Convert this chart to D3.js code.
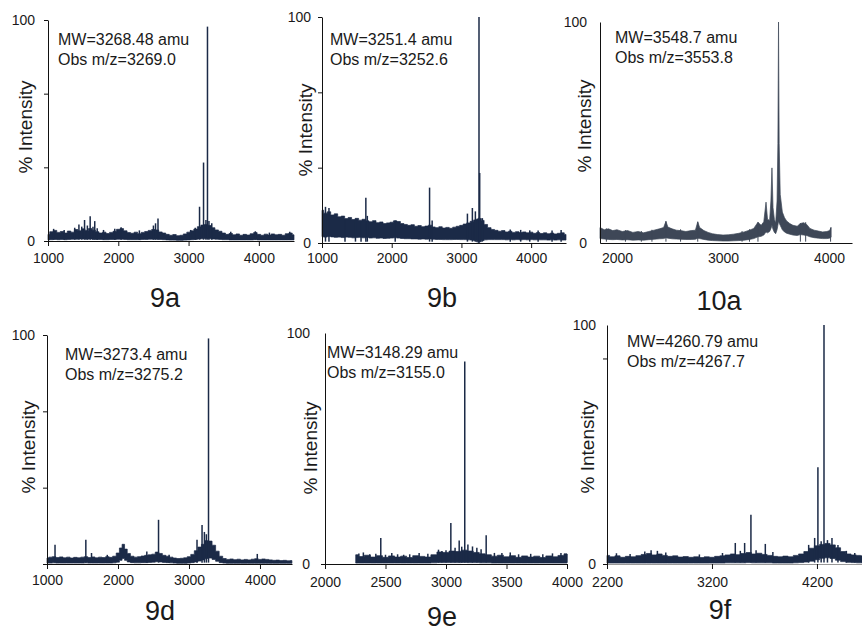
<!DOCTYPE html>
<html>
<head>
<meta charset="utf-8">
<script src="https://cdn.jsdelivr.net/npm/d3@7"></script>
<style>
  body { margin: 0; background: #fff; }
  text { font-family: Arial, "Liberation Sans", sans-serif; fill: #1a1a1a; }
</style>
</head>
<body>
<div id="chart"></div>
<script>
// ---- data: [m/z, noise low %, noise high %] and [m/z, peak %] ----

var band9a = [[1000,0.5,3.0],[1050,0.6,4.2],[1100,0.7,4.8],[1150,0.6,3.9],[1200,0.7,4.3],[1250,0.6,3.6],[1300,0.7,4.5],[1350,0.8,4.0],[1400,0.8,5.2],[1450,0.9,4.6],[1500,0.9,5.5],[1550,0.8,4.8],[1600,0.9,5.6],[1650,0.8,4.9],[1700,0.7,4.2],[1750,0.7,3.6],[1800,0.6,4.0],[1850,0.6,3.4],[1900,0.7,3.9],[1950,0.7,4.4],[2000,0.8,5.3],[2050,0.8,5.6],[2100,0.7,4.6],[2150,0.6,3.8],[2200,0.6,3.5],[2250,0.6,4.0],[2300,0.6,3.3],[2350,0.7,3.9],[2400,0.7,4.3],[2450,0.8,4.8],[2500,0.8,5.2],[2550,0.8,5.0],[2600,0.7,4.1],[2650,0.6,3.6],[2700,0.5,3.0],[2750,0.4,2.6],[2800,0.4,2.9],[2850,0.3,2.4],[2900,0.3,2.6],[2950,0.4,3.2],[3000,0.5,4.0],[3050,0.6,4.6],[3100,0.7,5.4],[3150,0.9,6.5],[3200,1.0,7.2],[3250,1.1,7.5],[3300,1.0,7.0],[3350,0.9,6.0],[3400,0.8,5.0],[3450,0.7,4.4],[3500,0.6,3.6],[3550,0.6,3.0],[3600,0.5,3.4],[3650,0.5,2.8],[3700,0.5,3.2],[3750,0.5,2.6],[3800,0.5,3.0],[3850,0.5,2.7],[3900,0.5,3.3],[3950,0.6,3.8],[4000,0.5,3.0],[4050,0.5,2.6],[4100,0.5,3.1],[4150,0.5,2.7],[4200,0.5,3.2],[4250,0.5,2.8],[4300,0.5,3.0],[4350,0.5,2.6],[4400,0.5,3.3],[4450,0.5,3.6],[4500,0.5,2.8]];
var peaks9a = [[1080,5.5],[1230,5],[1380,6],[1440,7.5],[1480,6.5],[1520,9.5],[1560,7],[1600,11.2],[1640,6.5],[1665,9],[1700,5.8],[1790,5],[1950,5.5],[2040,6.2],[2300,4.8],[2500,7],[2530,8],[2565,10.2],[3030,5],[3095,6],[3156,15.5],[3213,35.5],[3247,9.5],[3269,97],[3290,9],[3330,8],[3600,4.2],[3950,4.4],[4150,3.8],[4440,4.2]];

var band9b = [[1000,2.8,14.5],[1050,2.6,13.2],[1100,2.9,13.8],[1150,2.7,12.4],[1200,2.5,12.9],[1250,2.6,11.6],[1300,2.4,11.9],[1350,2.6,10.8],[1400,2.5,11.3],[1450,2.3,10.4],[1500,2.4,10.9],[1550,2.5,10.1],[1600,2.3,10.5],[1650,2.4,9.8],[1700,2.2,9.4],[1750,2.3,9.9],[1800,2.1,9.0],[1850,2.2,9.3],[1900,2.0,8.6],[1950,2.1,8.9],[2000,2.2,9.2],[2050,2.3,9.8],[2100,2.2,9.5],[2150,2.0,8.6],[2200,1.9,8.2],[2250,1.9,7.8],[2300,1.8,8.1],[2350,1.8,7.4],[2400,1.7,7.7],[2450,1.8,7.2],[2500,1.7,7.5],[2550,1.8,7.9],[2600,1.7,7.1],[2650,1.6,6.8],[2700,1.6,7.2],[2750,1.5,6.6],[2800,1.5,6.9],[2850,1.5,6.5],[2900,1.6,7.0],[2950,1.6,7.4],[3000,1.5,7.8],[3050,1.5,8.4],[3100,1.4,8.9],[3150,1.3,9.6],[3200,1.0,10.2],[3230,0.5,10.6],[3250,0.1,11.0],[3270,0.6,10.8],[3300,1.1,10.0],[3350,1.4,8.2],[3400,1.5,6.8],[3450,1.5,6.0],[3500,1.5,5.6],[3550,1.5,5.2],[3600,1.5,5.5],[3650,1.4,4.9],[3700,1.5,5.2],[3750,1.4,4.7],[3800,1.5,5.0],[3850,1.4,4.6],[3900,1.5,4.9],[3950,1.4,4.5],[4000,1.5,4.8],[4050,1.4,4.3],[4100,1.4,4.6],[4150,1.4,4.2],[4200,1.4,4.5],[4250,1.3,4.1],[4300,1.4,4.4],[4350,1.3,4.0],[4400,1.4,4.3],[4450,1.3,4.5],[4500,1.3,3.8]];
var peaks9b = [[1050,16],[1100,15.5],[1330,10.5],[1480,10.5],[1560,9.5],[1629,20],[1650,12],[2050,10],[2543,24.5],[2580,10],[3086,13],[3157,15.5],[3200,14],[3252,100],[3262,31],[3300,11],[3700,6],[3850,5.8],[3980,5.6],[4100,5.5],[4300,5.5],[4430,5.8]];

var band10a = [[1840,2.0,7.0],[1880,1.8,6.0],[1920,1.6,6.4],[1960,1.5,5.6],[2000,1.6,6.0],[2050,1.4,5.2],[2100,1.5,5.6],[2150,1.3,4.8],[2200,1.4,5.2],[2250,1.3,4.6],[2300,1.5,5.2],[2350,1.7,5.8],[2400,1.9,6.4],[2440,2.0,7.0],[2462,2.4,9.8],[2480,2.2,7.2],[2520,1.9,6.4],[2560,1.8,5.8],[2600,1.7,5.6],[2650,1.6,5.2],[2700,1.6,5.6],[2740,1.7,5.8],[2762,2.2,9.6],[2780,2.0,7.0],[2820,1.6,5.6],[2860,1.3,4.8],[2900,1.1,4.2],[2950,1.0,3.8],[3000,0.9,3.6],[3050,0.9,3.7],[3100,1.0,4.0],[3150,1.1,4.4],[3200,1.3,5.0],[3250,1.6,5.8],[3290,2.0,6.6],[3330,2.8,9.4],[3360,3.0,8.0],[3385,3.6,9.6],[3406,5.0,18.5],[3420,4.6,10.8],[3440,5.2,10.2],[3452,6.5,19.0],[3462,8.0,34.0],[3472,6.2,16.0],[3485,4.8,10.6],[3497,4.2,9.0],[3510,6.0,19.0],[3518,8.0,45.0],[3524,10.0,100],[3530,9.0,45.0],[3540,8.0,22.0],[3560,6.0,14.0],[3580,5.0,11.5],[3600,4.4,10.0],[3630,4.0,8.8],[3660,3.6,8.0],[3700,3.4,7.6],[3730,3.8,8.8],[3760,3.6,9.2],[3790,3.4,8.4],[3820,2.8,6.6],[3860,2.4,5.8],[3900,2.2,5.4],[3940,2.0,5.0],[3980,2.0,5.2],[4005,2.2,5.6],[4020,2.6,7.0]];
var peaks10a = [[1900,6.6],[2080,5.8],[2230,5.4],[2330,6],[2462,9.8],[2600,6.2],[2762,9.6],[3180,5.4],[3250,6.2],[3330,9.4],[3730,9],[3780,9.4],[4015,7]];

var band9d = [[1000,0.4,2.6],[1050,0.4,3.0],[1100,0.5,3.2],[1150,0.4,2.8],[1200,0.4,3.1],[1250,0.4,2.7],[1300,0.4,3.0],[1350,0.4,2.6],[1400,0.4,2.9],[1450,0.4,2.7],[1500,0.4,3.0],[1550,0.5,3.2],[1600,0.4,2.8],[1650,0.4,3.1],[1700,0.4,2.7],[1750,0.4,3.0],[1800,0.4,2.8],[1850,0.4,3.2],[1900,0.4,2.9],[1950,0.5,3.4],[2000,0.8,4.8],[2040,1.6,7.0],[2075,2.4,8.6],[2110,1.6,6.5],[2150,0.9,4.6],[2200,0.6,3.4],[2250,0.5,3.0],[2300,0.5,3.2],[2350,0.6,3.5],[2400,0.6,3.8],[2450,0.7,4.0],[2500,0.8,4.3],[2550,1.0,5.2],[2600,0.9,4.6],[2650,0.7,3.8],[2700,0.6,3.4],[2750,0.5,3.0],[2800,0.4,2.6],[2850,0.3,2.4],[2900,0.3,2.5],[2950,0.3,2.7],[3000,0.4,3.2],[3050,0.6,4.2],[3100,0.9,5.8],[3150,1.3,7.4],[3200,1.8,8.6],[3250,2.4,10.2],[3300,2.6,10.0],[3350,2.0,8.2],[3400,1.2,5.6],[3450,0.6,3.4],[3500,0.4,2.4],[3550,0.3,2.0],[3600,0.3,2.2],[3650,0.3,1.9],[3700,0.3,2.1],[3750,0.3,1.8],[3800,0.3,2.0],[3850,0.3,1.8],[3900,0.3,2.1],[3950,0.3,2.3],[4000,0.3,2.0],[4050,0.3,2.2],[4100,0.3,2.0],[4150,0.3,1.8],[4200,0.3,1.6],[4250,0.3,1.7],[4300,0.3,1.5],[4350,0.3,1.6],[4400,0.3,1.4],[4450,0.3,1.5]];
var peaks9d = [[1113,8.4],[1547,10.6],[1627,4.8],[1849,4],[2406,5.5],[2571,19.3],[2720,4],[3113,10.6],[3184,17],[3217,14],[3245,13],[3275,98.5],[3962,4.4]];

var band9e = [[2254,0.4,4.0],[2300,0.4,3.2],[2350,0.4,3.8],[2400,0.4,3.0],[2450,0.4,3.6],[2500,0.4,2.9],[2550,0.4,3.5],[2600,0.4,3.0],[2650,0.4,3.4],[2700,0.4,2.8],[2750,0.4,3.6],[2800,0.4,3.3],[2850,0.4,3.0],[2900,0.5,4.0],[2950,0.6,5.2],[3000,0.6,5.0],[3050,0.6,5.6],[3100,0.6,5.4],[3150,0.7,6.0],[3200,0.6,5.6],[3250,0.6,5.0],[3300,0.5,4.4],[3350,0.5,4.0],[3400,0.4,3.4],[3450,0.4,3.8],[3500,0.4,3.1],[3550,0.4,3.6],[3600,0.4,2.9],[3650,0.4,3.5],[3700,0.4,3.0],[3750,0.4,3.4],[3800,0.4,2.8],[3850,0.4,3.5],[3900,0.4,3.1],[3950,0.4,3.7],[4000,0.4,4.4]];
var peaks9e = [[2280,4.5],[2317,5],[2370,4.2],[2420,4.4],[2461,11.3],[2500,4],[2552,4.8],[2600,4.2],[2650,4],[2700,4.2],[2778,4.8],[2850,4.4],[2938,6.2],[2966,5.6],[3000,6],[3040,17.7],[3075,7],[3109,10.2],[3130,7.5],[3155,87.7],[3181,8.4],[3219,7.6],[3255,7],[3290,6.4],[3332,12.4],[3400,4.8],[3462,4.8],[3531,5],[3600,4.2],[3700,4.4],[3800,4.2],[3880,4.6],[3950,4.8],[3998,4.3]];

var band9f = [[2200,0.4,3.6],[2250,0.4,3.0],[2300,0.4,3.4],[2350,0.4,2.8],[2400,0.4,3.2],[2450,0.4,3.0],[2500,0.4,3.5],[2550,0.4,4.0],[2600,0.4,4.4],[2650,0.4,3.8],[2700,0.4,4.2],[2750,0.4,3.6],[2800,0.4,3.2],[2850,0.4,3.4],[2900,0.4,2.9],[2950,0.4,3.1],[3000,0.4,2.8],[3050,0.4,3.0],[3100,0.4,2.7],[3150,0.4,3.0],[3200,0.4,2.8],[3250,0.4,3.2],[3300,0.4,3.4],[3350,0.5,3.8],[3400,0.5,4.2],[3450,0.5,3.9],[3500,0.5,4.4],[3550,0.6,4.8],[3600,0.5,4.2],[3650,0.5,4.5],[3700,0.5,4.0],[3750,0.5,3.6],[3800,0.4,3.2],[3850,0.4,3.0],[3900,0.4,3.3],[3950,0.4,3.0],[4000,0.5,3.6],[4050,0.6,4.2],[4100,0.8,5.2],[4150,1.2,6.6],[4200,1.8,7.6],[4250,2.4,8.2],[4300,2.6,8.6],[4350,2.3,8.0],[4400,1.6,6.8],[4450,1.0,5.2],[4500,0.7,4.2],[4550,0.6,3.8],[4600,0.5,3.6],[4629,0.5,3.4]];
var peaks9f = [[2290,4.5],[2420,4.2],[2560,5.2],[2620,5.8],[2680,5.5],[2760,4.8],[3080,4],[3300,4.6],[3422,8.8],[3470,5.5],[3511,8.8],[3571,20.6],[3620,5.8],[3708,8.4],[3780,5],[4121,8],[4178,10.9],[4209,40.5],[4240,9.5],[4267,100],[4300,10],[4343,10.9],[4400,8],[4480,5.5],[4560,4.6]];

// tick labels
var ticks1000 = [1000, 2000, 3000, 4000];
var ticks10a = [2000, 3000, 4000];
var ticks9e = [2000, 2500, 3000, 3500, 4000];
var ticks9f = [2200, 3200, 4200];

var names = ["9a", "9b", "10a", "9d", "9e", "9f"];
var mwText = ["MW=3268.48 amu", "MW=3251.4 amu", "MW=3548.7 amu", "MW=3273.4 amu", "MW=3148.29 amu", "MW=4260.79 amu"];
var obsText = ["Obs m/z=3269.0", "Obs m/z=3252.6", "Obs m/z=3553.8", "Obs m/z=3275.2", "Obs m/z=3155.0", "Obs m/z=4267.7"];

// ---- layout of each small plot ----
var third = 100 / 3;
var panels = [
  {band: band9a, peaks: peaks9a, left: 48, right: 294, top: 20, bottom: 241, xDomain: [1000, 4500], xTicks: ticks1000,
   xTickSize: 5, xPad: 7, yTicks: [0, third, 2 * third, 100], yLabels: [0, 100], noTick: [], yPad: 9,
   color: "#1b2a47", step: true, title: [165, 307], ylab: [25, 127], note: [58, 45]},
  {band: band9b, peaks: peaks9b, left: 322, right: 566, top: 17, bottom: 243, xDomain: [1000, 4500], xTicks: ticks1000,
   xTickSize: 5, xPad: 5, yTicks: [0, third, 2 * third, 100], yLabels: [0, 100], noTick: [], yPad: 7,
   color: "#1b2a47", step: true, title: [442, 307], ylab: [305, 130], note: [330, 45]},
  {band: band10a, peaks: peaks10a, left: 600, right: 852, top: 22, bottom: 243, xDomain: [1840, 4217], xTicks: ticks10a,
   xTickSize: 0, xPad: 10, yTicks: [0, 100], yLabels: [0, 100], noTick: [0, 100], yPad: 9,
   color: "#3e4757", step: false, thin: true, title: [719, 310], ylab: [584, 126], note: [615, 43]},
  {band: band9d, peaks: peaks9d, left: 47, right: 292, top: 335, bottom: 564, xDomain: [1000, 4451], xTicks: ticks1000,
   xTickSize: 5, xPad: 6, yTicks: [0, third, 2 * third, 100], yLabels: [100], noTick: [], yPad: 8,
   color: "#1b2a47", step: true, title: [160, 620], ylab: [28, 447], note: [65, 360]},
  {band: band9e, peaks: peaks9e, left: 325, right: 567, top: 333, bottom: 564, xDomain: [2000, 4000], xTicks: ticks9e,
   xTickSize: 5, xPad: 8, yTicks: [0, 100], yLabels: [0, 100], noTick: [100], yPad: 11,
   color: "#1b2a47", step: true, title: [442, 626], ylab: [310, 448], note: [327, 358]},
  {band: band9f, peaks: peaks9f, left: 607, right: 862, top: 325, bottom: 564, xDomain: [2200, 4629], xTicks: ticks9f,
   xTickSize: 5, xPad: 8, yTicks: [0, 86, 100], yLabels: [0, 100], noTick: [100], yPad: 7,
   color: "#1b2a47", step: true, axisColor: "#999", title: [720, 619], ylab: [587, 447], note: [627, 347]}
];

var svg = d3.select("#chart").append("svg")
  .attr("width", 862)
  .attr("height", 634);

panels.forEach(function (p, i) {
  var x = d3.scaleLinear().domain(p.xDomain).range([p.left, p.right]);
  var y = d3.scaleLinear().domain([0, 100]).range([p.bottom, p.top]);
  var g = svg.append("g").attr("class", "panel-" + names[i]);

  // noise band (stepped so the top edge reads as a dense jagged trace)
  g.append("path")
    .datum(p.band)
    .attr("fill", p.color)
    .attr("stroke", p.color)
    .attr("stroke-width", 0.7)
    .attr("d", d3.area()
      .curve(p.step ? d3.curveStep : d3.curveLinear)
      .x(function (d) { return x(d[0]); })
      .y0(function (d) { return y(d[1]); })
      .y1(function (d) { return y(d[2]); }));

  // peaks
  g.selectAll(".peak")
    .data(p.peaks)
    .enter()
    .append("line")
    .attr("class", "peak")
    .attr("x1", function (d) { return x(d[0]); })
    .attr("x2", function (d) { return x(d[0]); })
    .attr("y1", y(0.6))
    .attr("y2", function (d) { return y(d[1]); })
    .attr("stroke", p.color)
    .attr("stroke-width", p.thin ? 1 : 1.5);

  // x axis
  var xg = g.append("g")
    .attr("transform", "translate(0," + p.bottom + ")")
    .call(d3.axisBottom(x)
      .tickValues(p.xTicks)
      .tickFormat(d3.format("d"))
      .tickSize(p.xTickSize)
      .tickSizeOuter(0)
      .tickPadding(p.xPad));
  xg.select(".domain").attr("stroke", p.axisColor || "#111");
  xg.selectAll(".tick line").attr("stroke", "#111");
  xg.selectAll("text").style("font-size", "14px").attr("fill", "#1a1a1a");

  // y axis
  var yg = g.append("g")
    .attr("transform", "translate(" + p.left + ",0)")
    .call(d3.axisLeft(y)
      .tickValues(p.yTicks)
      .tickFormat(function (d) { return p.yLabels.indexOf(d) >= 0 ? d : ""; })
      .tickSize(4)
      .tickSizeOuter(0)
      .tickPadding(p.yPad));
  yg.select(".domain").attr("stroke", "#111");
  yg.selectAll(".tick line").attr("stroke", "#111");
  yg.selectAll(".tick").filter(function (d) { return p.noTick.indexOf(d) >= 0; }).select("line").remove();
  yg.selectAll("text").style("font-size", "14px").attr("fill", "#1a1a1a");

  // axis title
  g.append("text")
    .attr("transform", "translate(" + p.ylab[0] + "," + p.ylab[1] + ") rotate(-90)")
    .attr("text-anchor", "middle")
    .attr("dy", "0.35em")
    .style("font-size", "19px")
    .text("% Intensity");

  // MW / observed notes
  g.append("text")
    .attr("x", p.note[0])
    .attr("y", p.note[1])
    .style("font-size", "16px")
    .text(mwText[i]);
  g.append("text")
    .attr("x", p.note[0])
    .attr("y", p.note[1] + 20)
    .style("font-size", "16px")
    .text(obsText[i]);

  // compound label
  g.append("text")
    .attr("x", p.title[0])
    .attr("y", p.title[1])
    .attr("text-anchor", "middle")
    .style("font-size", "27px")
    .text(names[i]);
});
</script>
</body>
</html>
